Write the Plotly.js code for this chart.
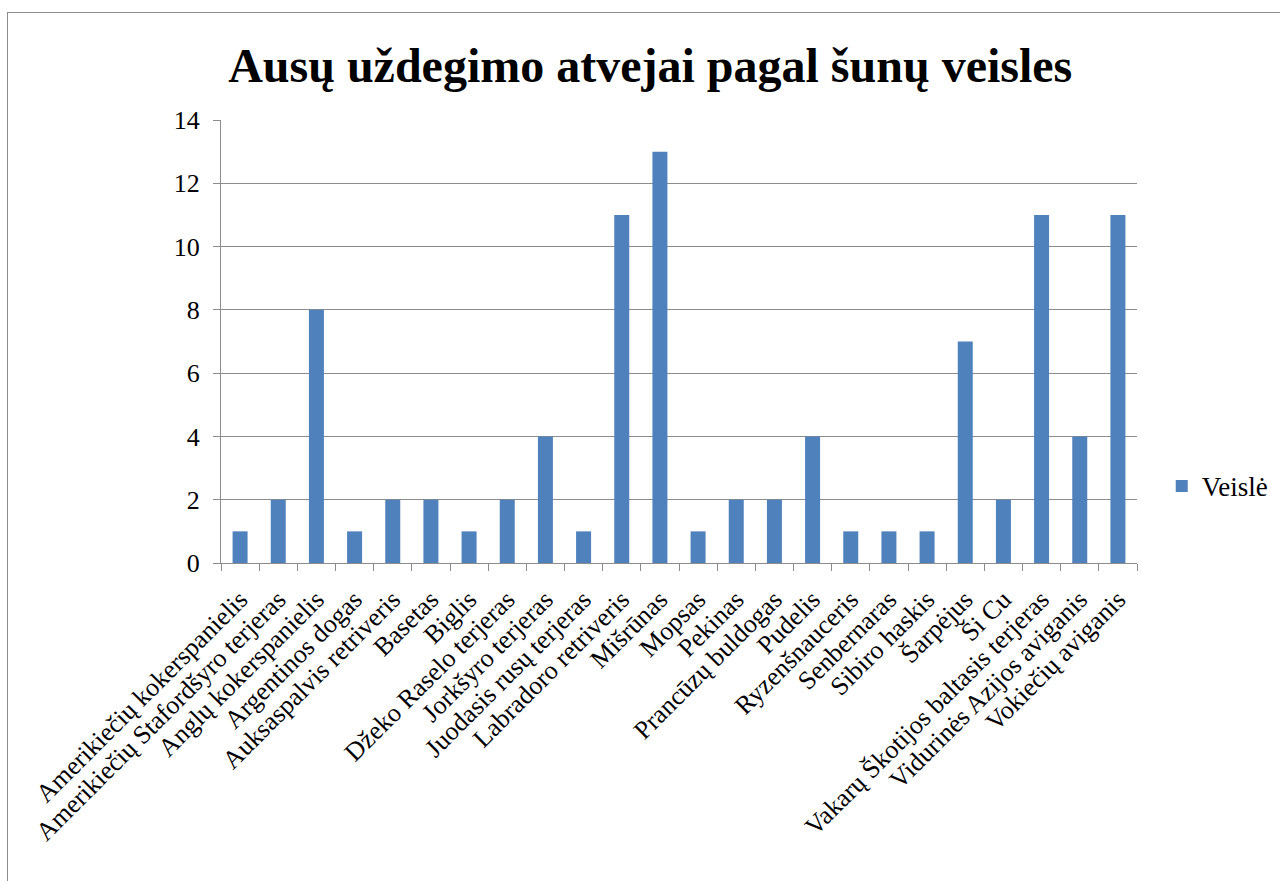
<!DOCTYPE html>
<html><head><meta charset="utf-8">
<script src="https://cdn.plot.ly/plotly-3.0.1.min.js"></script>
<style>
html,body{margin:0;padding:0;background:#fff;}
#wrap{position:relative;width:1280px;height:881px;overflow:hidden;}
#frame{position:absolute;left:7px;top:12px;width:1290px;height:900px;border:1px solid #8c8c8c;pointer-events:none;}
#chart{position:absolute;left:0;top:0;width:1280px;height:881px;}
</style></head>
<body><div id="wrap"><div id="chart"></div><div id="frame"></div></div>
<script>
const categories = ["Amerikiečių kokerspanielis","Amerikiečių Stafordšyro terjeras","Anglų kokerspanielis","Argentinos dogas","Auksaspalvis retriveris","Basetas","Biglis","Džeko Raselo terjeras","Jorkšyro terjeras","Juodasis rusų terjeras","Labradoro retriveris","Mišrūnas","Mopsas","Pekinas","Prancūzų buldogas","Pudelis","Ryzenšnauceris","Senbernaras","Sibiro haskis","Šarpėjus","Ši Cu","Vakarų Škotijos baltasis terjeras","Vidurinės Azijos aviganis","Vokiečių aviganis"];
const values = [1,2,8,1,2,2,1,2,4,1,11,13,1,2,2,4,1,1,1,7,2,11,4,11];
const seriesName = "Veislė";
const yTicks = [0,2,4,6,8,10,12,14];

const font = "Liberation Serif, Times New Roman, serif";
Plotly.newPlot('chart', [{
  type:'bar', x:categories, y:values, name:seriesName,
  marker:{color:'#4f81bd'}, showlegend:true
}], {
  width:1280, height:881,
  margin:{l:221, r:143, t:120, b:318, autoexpand:false},
  paper_bgcolor:'#fff', plot_bgcolor:'#fff',
  bargap:0.607,
  font:{family:font, color:'#000', size:26},
  title:{text:'Ausų uždegimo atvejai pagal šunų veisles', font:{family:font, size:48, weight:'bold', color:'#000'}, x:0.508, xanchor:'center', y:0.926, yanchor:'middle'},
  xaxis:{tickangle:-45, tickfont:{family:font, size:26}, showline:true, linecolor:'#8c8c8c', ticks:'outside', tickson:'boundaries', ticklen:7, tickcolor:'#8c8c8c', showgrid:false, automargin:false, ticklabelstandoff:10},
  yaxis:{range:[0,14], tickvals:yTicks, showgrid:true, gridcolor:'#8c8c8c', showline:true, linecolor:'#8c8c8c', ticks:'outside', ticklen:7, tickcolor:'#8c8c8c', tickfont:{family:font, size:26}, zeroline:false, automargin:false, ticklabelstandoff:8},
  legend:{x:1.027, y:0.173, xanchor:'left', yanchor:'middle', font:{family:font, size:27}, itemwidth:30},
}, {displayModeBar:false, staticPlot:true});
</script></body></html>
